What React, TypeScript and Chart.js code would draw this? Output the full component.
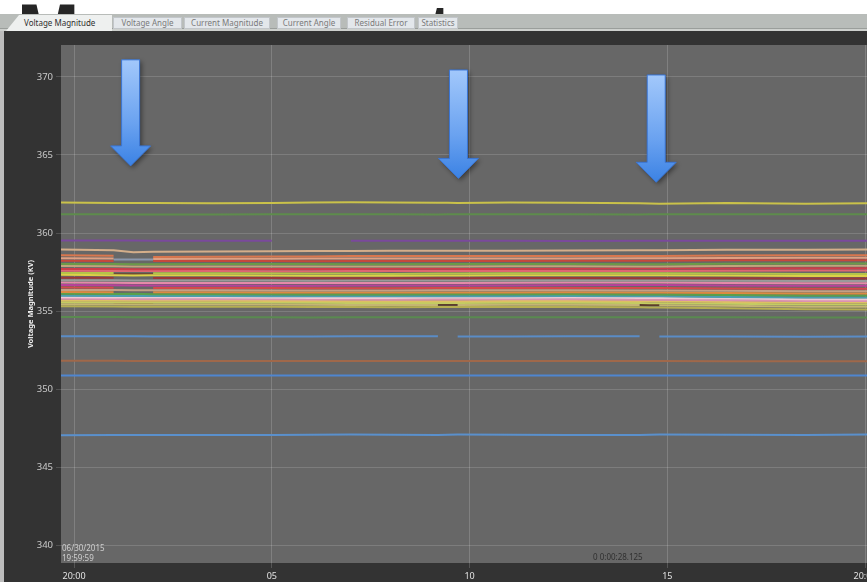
import { useEffect, useRef } from "react";
import { Chart, registerables } from "chart.js";

Chart.register(...registerables);

// ---- time axis (seconds after 20:00:00) ----
const TIMES = [-0.33, 1.0, 1.5, 2.0, 3.5, 5.0, 6.0, 7.0, 8.0, 9.2, 9.45, 9.7, 11.0, 12.5, 14.3, 14.55, 14.8, 16.5, 18.5, 20.05];
const X_TICK_VALUES = [0, 5, 10, 15, 20];
const X_TICK_LABELS = ["20:00", "05", "10", "15", "20:00"];
const Y_TICK_VALUES = [340, 345, 350, 355, 360, 365, 370];
const X_MIN = -0.33;
const X_MAX = 20.05;
const Y_MIN = 338.85;
const Y_MAX = 372.05;

// ---- arrow annotations (time, top value, tip value) ----
const ARROW_TIMES = [1.43, 9.72, 14.72];
const ARROW_TOPS = [371.1, 370.45, 370.13];
const ARROW_TIPS = [364.3, 363.5, 363.25];

const N = null;

// ---- series values (kV) ----
const yellowTop = [361.95, 361.93, 361.92, 361.92, 361.9, 361.93, 361.96, 361.97, 361.95, 361.94, 361.94, 361.93, 361.95, 361.94, 361.9, 361.89, 361.88, 361.93, 361.87, 361.91];
const greenTop = [361.2, 361.2, 361.19, 361.18, 361.18, 361.2, 361.21, 361.2, 361.2, 361.19, 361.2, 361.2, 361.21, 361.2, 361.19, 361.2, 361.2, 361.21, 361.2, 361.2];
const purple = [359.52, 359.52, 359.52, 359.51, 359.5, 359.5, N, 359.5, 359.5, 359.5, 359.5, 359.5, 359.5, 359.49, 359.5, 359.5, 359.5, 359.5, 359.5, 359.5];
const tanTop = [358.95, 358.9, 358.77, 358.8, 358.82, 358.83, 358.84, 358.85, 358.86, 358.87, 358.87, 358.86, 358.87, 358.88, 358.9, 358.9, 358.9, 358.92, 358.93, 358.95];
const orangeRed = [358.58, 358.55, N, 358.47, 358.48, 358.5, 358.5, 358.52, 358.52, 358.53, 358.53, 358.52, 358.52, 358.53, 358.53, 358.53, 358.53, 358.56, 358.58, 358.58];
const salmon = [358.38, 358.36, N, 358.34, 358.35, 358.35, 358.36, 358.36, 358.36, 358.37, 358.37, 358.36, 358.36, 358.37, 358.38, 358.38, 358.38, 358.4, 358.42, 358.42];
const red1 = [358.22, 358.2, N, 358.2, 358.21, 358.2, 358.19, 358.2, 358.2, 358.21, 358.21, 358.21, 358.2, 358.22, 358.22, 358.22, 358.22, 358.25, 358.26, 358.26];
const green1 = [358.02, 358.01, 358.0, 358.0, 358.02, 358.02, 358.01, 358.0, 358.0, 358.01, 358.01, 358.01, 358.02, 358.02, 358.0, 358.0, 358.0, 358.03, 358.05, 358.05];
const tan2 = [357.88, 357.87, 357.86, 357.86, 357.86, 357.85, 357.85, 357.86, 357.86, 357.86, 357.86, 357.86, 357.87, 357.87, 357.86, 357.86, 357.86, 357.88, 357.9, 357.9];
const red2 = [357.7, 357.7, 357.68, 357.68, 357.69, 357.7, 357.7, 357.7, 357.71, 357.71, 357.71, 357.7, 357.7, 357.71, 357.72, 357.72, 357.72, 357.72, 357.74, 357.74];
const pinkRed = [357.58, 357.57, 357.56, 357.56, 357.56, 357.55, 357.55, 357.56, 357.56, 357.56, 357.56, 357.56, 357.57, 357.57, 357.57, 357.57, 357.57, 357.58, 357.6, 357.6];
const yellowGreen = [357.44, 357.43, N, 357.42, 357.42, 357.42, 357.4, 357.4, 357.38, 357.4, 357.4, 357.4, 357.42, 357.42, 357.42, 357.42, 357.42, 357.4, 357.38, 357.38];
const yellow = [357.32, 357.3, 357.28, 357.3, 357.3, 357.28, 357.26, 357.26, 357.26, 357.28, 357.28, 357.28, 357.3, 357.3, 357.3, 357.3, 357.3, 357.27, 357.24, 357.24];
const darkRed = [357.14, 357.13, N, 357.12, 357.12, 357.12, 357.1, 357.1, 357.1, 357.1, 357.1, 357.1, 357.12, 357.12, 357.1, 357.1, 357.1, 357.1, 357.08, 357.08];
const grayLine = [356.98, 356.97, 356.95, 356.96, 356.96, 356.95, 356.94, 356.95, 356.95, 356.96, 356.96, 356.96, 356.96, 356.96, 356.95, 356.95, 356.95, 356.94, 356.92, 356.92];
const pink = [356.82, 356.81, 356.8, 356.8, 356.8, 356.79, 356.79, 356.8, 356.8, 356.8, 356.8, 356.8, 356.81, 356.82, 356.82, 356.82, 356.82, 356.8, 356.78, 356.78];
const magenta = [356.66, 356.65, 356.64, 356.64, 356.63, 356.62, 356.62, 356.63, 356.63, 356.64, 356.64, 356.64, 356.64, 356.65, 356.66, 356.66, 356.66, 356.64, 356.62, 356.62];
const red3 = [356.5, 356.49, N, 356.48, 356.48, 356.47, 356.46, 356.46, 356.46, 356.47, 356.47, 356.47, 356.47, 356.48, 356.47, 356.47, 356.47, 356.45, 356.42, 356.42];
const tan3 = [356.35, 356.34, 356.33, 356.33, 356.33, 356.32, 356.32, 356.32, 356.32, 356.33, 356.33, 356.33, 356.33, 356.33, 356.32, 356.32, 356.32, 356.3, 356.27, 356.27];
const orange = [356.22, 356.21, N, 356.2, 356.2, 356.19, 356.18, 356.18, 356.18, 356.19, 356.19, 356.19, 356.19, 356.2, 356.19, 356.19, 356.19, 356.16, 356.13, 356.13];
const green2 = [356.1, 356.09, 356.1, 356.08, 356.08, 356.07, 356.06, 356.06, 356.06, 356.07, 356.07, 356.07, 356.07, 356.08, 356.06, 356.06, 356.06, 356.03, 356.0, 356.0];
const teal = [355.98, 355.97, 355.96, 355.96, 355.96, 355.95, 355.94, 355.94, 355.94, 355.95, 355.95, 355.95, 355.95, 355.96, 355.94, 355.94, 355.94, 355.9, 355.87, 355.87];
const lightPink = [355.88, 355.87, 355.86, 355.86, 355.86, 355.85, 355.84, 355.84, 355.84, 355.85, 355.85, 355.85, 355.85, 355.86, 355.84, 355.84, 355.84, 355.8, 355.76, 355.76];
const pink2 = [355.78, 355.77, 355.76, 355.76, 355.76, 355.75, 355.74, 355.74, 355.73, 355.74, 355.74, 355.74, 355.75, 355.75, 355.73, 355.73, 355.73, 355.69, 355.65, 355.65];
const yellowTan = [355.68, 355.67, 355.66, 355.66, 355.66, 355.65, 355.64, 355.63, 355.62, 355.63, 355.63, 355.63, 355.64, 355.64, 355.62, 355.62, 355.62, 355.58, 355.54, 355.54];
const yellowGreen2 = [355.57, 355.56, 355.55, 355.55, 355.55, 355.54, 355.53, 355.52, 355.51, 355.52, 355.52, 355.52, 355.53, 355.53, 355.51, 355.5, 355.5, 355.46, 355.42, 355.42];
const khaki = [355.44, 355.43, 355.42, 355.42, 355.42, 355.41, 355.4, 355.39, 355.38, 355.39, N, 355.39, 355.4, 355.4, 355.38, N, 355.37, 355.33, 355.28, 355.28];
const olive = [355.3, 355.29, 355.28, 355.28, 355.28, 355.27, 355.26, 355.25, 355.24, 355.25, 355.25, 355.25, 355.26, 355.26, 355.24, 355.23, 355.22, 355.17, 355.12, 355.1];
const grayBlue = [N, 358.3, 358.3, 358.3, N, N, N, N, N, N, N, N, N, N, N, N, N, N, N, N];
const brownMid = [N, 357.38, 357.38, 357.38, N, N, N, N, N, N, N, N, N, N, N, N, N, N, N, N];
const darkBrown = [N, 355.47, 355.47, 355.47, N, N, N, N, N, 355.4, 355.4, 355.4, N, N, 355.38, 355.38, 355.38, N, N, N];
const greenLow = [354.62, 354.61, 354.6, 354.6, 354.6, 354.6, 354.59, 354.6, 354.6, 354.6, 354.6, 354.6, 354.6, 354.6, 354.6, 354.6, 354.6, 354.6, 354.59, 354.59];
const blue1 = [353.38, 353.38, 353.38, 353.37, 353.36, 353.36, 353.37, 353.38, 353.38, 353.38, N, 353.37, 353.37, 353.38, 353.38, N, 353.37, 353.36, 353.35, 353.36];
const orangeLow = [351.82, 351.81, 351.8, 351.8, 351.8, 351.8, 351.8, 351.8, 351.8, 351.8, 351.8, 351.8, 351.8, 351.8, 351.8, 351.8, 351.79, 351.78, 351.78, 351.78];
const blue2 = [350.86, 350.86, 350.86, 350.87, 350.87, 350.86, 350.86, 350.86, 350.86, 350.86, 350.86, 350.86, 350.86, 350.86, 350.86, 350.86, 350.86, 350.86, 350.86, 350.86];
const blue3 = [347.04, 347.05, 347.06, 347.06, 347.05, 347.06, 347.07, 347.08, 347.07, 347.06, 347.07, 347.08, 347.07, 347.06, 347.06, 347.07, 347.08, 347.07, 347.06, 347.08];

const SERIES: { values: (number | null)[]; color: string }[] = [
  { values: yellowTop, color: "#cac24a" },
  { values: greenTop, color: "#5e8c4c" },
  { values: purple, color: "#7a4a9c" },
  { values: tanTop, color: "#d4ae8a" },
  { values: orangeRed, color: "#d9774e" },
  { values: salmon, color: "#e0a082" },
  { values: red1, color: "#c5483c" },
  { values: green1, color: "#6c9a48" },
  { values: tan2, color: "#c2a47c" },
  { values: red2, color: "#cc3e4a" },
  { values: pinkRed, color: "#dd6673" },
  { values: yellowGreen, color: "#b4c44a" },
  { values: yellow, color: "#ddd048" },
  { values: darkRed, color: "#9c3838" },
  { values: grayLine, color: "#9a9a9a" },
  { values: pink, color: "#e48aa8" },
  { values: magenta, color: "#b8409c" },
  { values: red3, color: "#d44a4a" },
  { values: tan3, color: "#c4a084" },
  { values: orange, color: "#dc8a42" },
  { values: green2, color: "#5aa04a" },
  { values: teal, color: "#4c9fb0" },
  { values: lightPink, color: "#eccbd6" },
  { values: pink2, color: "#dc92b0" },
  { values: yellowTan, color: "#dcc064" },
  { values: yellowGreen2, color: "#c4cc62" },
  { values: khaki, color: "#c4b672" },
  { values: olive, color: "#b4ae52" },
  { values: grayBlue, color: "#8b98ae" },
  { values: brownMid, color: "#6c4c3a" },
  { values: darkBrown, color: "#5c3e2c" },
  { values: greenLow, color: "#5a8a50" },
  { values: blue1, color: "#5a8cc6" },
  { values: orangeLow, color: "#a0684a" },
  { values: blue2, color: "#4f86d0" },
  { values: blue3, color: "#5a90cc" },
];

const TABS = ["Voltage Magnitude", "Voltage Angle", "Current Magnitude", "Current Angle", "Residual Error", "Statistics"];
const TAB_LEFTS = [8, 113, 184, 277, 347, 418];
const TAB_WIDTHS = [104, 69, 86, 64, 68, 40];

const FONT = "'Noto Sans', 'DejaVu Sans', sans-serif";

const plotBgPlugin = {
  id: "plotBg",
  beforeDraw(chart: any) {
    const { ctx, chartArea } = chart;
    ctx.save();
    ctx.fillStyle = "#676767";
    ctx.fillRect(chartArea.left, chartArea.top, chartArea.right - chartArea.left, chartArea.bottom - chartArea.top);
    ctx.restore();
  },
};

const arrowPlugin = {
  id: "arrows",
  afterDatasetsDraw(chart: any) {
    const { ctx } = chart;
    const xs = chart.scales.x;
    const ys = chart.scales.y;
    ARROW_TIMES.forEach((t, i) => {
      const cx = xs.getPixelForValue(t);
      const top = ys.getPixelForValue(ARROW_TOPS[i]);
      const tip = ys.getPixelForValue(ARROW_TIPS[i]);
      const sw = 9;
      const hw = 20;
      const hh = 20;
      ctx.save();
      ctx.beginPath();
      ctx.moveTo(cx - sw, top);
      ctx.lineTo(cx + sw, top);
      ctx.lineTo(cx + sw, tip - hh);
      ctx.lineTo(cx + hw, tip - hh);
      ctx.lineTo(cx, tip);
      ctx.lineTo(cx - hw, tip - hh);
      ctx.lineTo(cx - sw, tip - hh);
      ctx.closePath();
      const g = ctx.createLinearGradient(0, top, 0, tip);
      g.addColorStop(0, "#a2c8fb");
      g.addColorStop(0.6, "#6aa2f0");
      g.addColorStop(1, "#3b82e4");
      ctx.shadowColor = "rgba(0,0,0,0.45)";
      ctx.shadowBlur = 5;
      ctx.shadowOffsetX = 2;
      ctx.shadowOffsetY = 2;
      ctx.fillStyle = g;
      ctx.fill();
      ctx.shadowColor = "transparent";
      ctx.lineWidth = 1;
      ctx.strokeStyle = "#3a76d6";
      ctx.stroke();
      ctx.restore();
    });
  },
};

export default function App() {
  const ref = useRef<HTMLCanvasElement>(null);

  useEffect(() => {
    const canvas = ref.current;
    if (!canvas) return;
    const datasets = SERIES.map((s) => ({
      data: TIMES.map((t, i) => ({ x: t, y: s.values[i] })),
      borderColor: s.color,
      backgroundColor: s.color,
      borderWidth: 2,
      pointRadius: 0,
      tension: 0,
      spanGaps: false,
      fill: false,
    }));
    const chart = new Chart(canvas, {
      type: "line",
      data: { datasets } as any,
      options: {
        animation: false,
        responsive: false,
        maintainAspectRatio: false,
        devicePixelRatio: 1,
        layout: { padding: { top: 13, left: 0, right: 0, bottom: 0 } },
        plugins: { legend: { display: false }, tooltip: { enabled: false } },
        scales: {
          x: {
            type: "linear",
            min: X_MIN,
            max: X_MAX,
            afterBuildTicks: (s: any) => {
              s.ticks = X_TICK_VALUES.map((v) => ({ value: v }));
            },
            afterFit: (s: any) => {
              s.height = 19;
              s.paddingLeft = 0;
              s.paddingRight = 0;
            },
            ticks: {
              autoSkip: false,
              maxRotation: 0,
              padding: 3,
              color: "#e2e2e2",
              font: { family: FONT, size: 9 },
              callback: (_v: any, i: number) => X_TICK_LABELS[i],
            },
            grid: { color: "rgba(255,255,255,0.17)", lineWidth: 1, tickLength: 5 },
            border: { display: false },
          },
          y: {
            type: "linear",
            min: Y_MIN,
            max: Y_MAX,
            afterBuildTicks: (s: any) => {
              s.ticks = Y_TICK_VALUES.map((v) => ({ value: v }));
            },
            afterFit: (s: any) => {
              s.width = 57;
            },
            ticks: {
              padding: 3,
              color: "#cacaca",
              font: { family: FONT, size: 9.5 },
            },
            grid: { color: "rgba(255,255,255,0.15)", lineWidth: 1, tickLength: 5 },
            border: { display: false },
            title: {
              display: true,
              text: "Voltage Magnitude (KV)",
              color: "#eeeeee",
              font: { family: FONT, size: 7.5, weight: "bold" },
              padding: { top: 22, bottom: 0 },
            },
          },
        },
      } as any,
      plugins: [plotBgPlugin, arrowPlugin],
    });
    return () => chart.destroy();
  }, []);

  return (
    <div
      style={{
        position: "fixed",
        left: 0,
        top: 0,
        width: 867,
        height: 582,
        overflow: "hidden",
        background: "#ffffff",
        fontFamily: FONT,
      }}
    >
      <div
        style={{
          position: "absolute",
          left: 16.5,
          top: -12,
          fontFamily: "'Liberation Sans', Arial, sans-serif",
          fontWeight: "bold",
          fontSize: 104,
          lineHeight: "104px",
          letterSpacing: -6.6,
          color: "#262626",
          whiteSpace: "nowrap",
          transform: "scaleX(0.72)",
          transformOrigin: "left top",
        }}
      >
        Measurement
      </div>
      <div style={{ position: "absolute", left: 0, top: 14, width: 867, height: 14, background: "#b8bcb9" }} />
      <div style={{ position: "absolute", left: 0, top: 28, width: 867, height: 1, background: "#9a9e9b" }} />
      <div style={{ position: "absolute", left: 0, top: 29, width: 867, height: 2, background: "#cdd0cd" }} />
      {TABS.map((t, i) =>
        i === 0 ? (
          <div
            key={t}
            style={{
              position: "absolute",
              left: TAB_LEFTS[i] - 2,
              top: 15,
              width: TAB_WIDTHS[i] + 2,
              height: 16,
              background: "#eef0ef",
              clipPath: "polygon(13px 0, 100% 0, 100% 100%, 0 100%)",
              fontSize: 8,
              lineHeight: "16px",
              color: "#2e2e2e",
              paddingLeft: 18,
              boxSizing: "border-box",
              whiteSpace: "nowrap",
            }}
          >
            {t}
          </div>
        ) : (
          <div
            key={t}
            style={{
              position: "absolute",
              left: TAB_LEFTS[i],
              top: 17,
              width: TAB_WIDTHS[i],
              height: 12,
              background: "#e3e7eb",
              border: "1px solid #c2c6ca",
              boxSizing: "border-box",
              fontSize: 8,
              lineHeight: "10px",
              color: "#7a7a7a",
              textAlign: "center",
              whiteSpace: "nowrap",
            }}
          >
            {t}
          </div>
        )
      )}
      <div style={{ position: "absolute", left: 0, top: 31, width: 4, height: 551, background: "#bdbdbd" }} />
      <div style={{ position: "absolute", left: 4, top: 31, width: 863, height: 551, background: "#333333" }}>
        <canvas ref={ref} width={863} height={550} style={{ position: "absolute", left: 0, top: 1, width: 863, height: 550 }} />
        <div style={{ position: "absolute", left: 58, top: 512, fontSize: 8, lineHeight: "10px", color: "#cfcfcf" }}>
          06/30/2015
          <br />
          19:59:59
        </div>
        <div style={{ position: "absolute", left: 589, top: 521, fontSize: 8, lineHeight: "9px", color: "#303030" }}>
          0 0:00:28.125
        </div>
      </div>
    </div>
  );
}
